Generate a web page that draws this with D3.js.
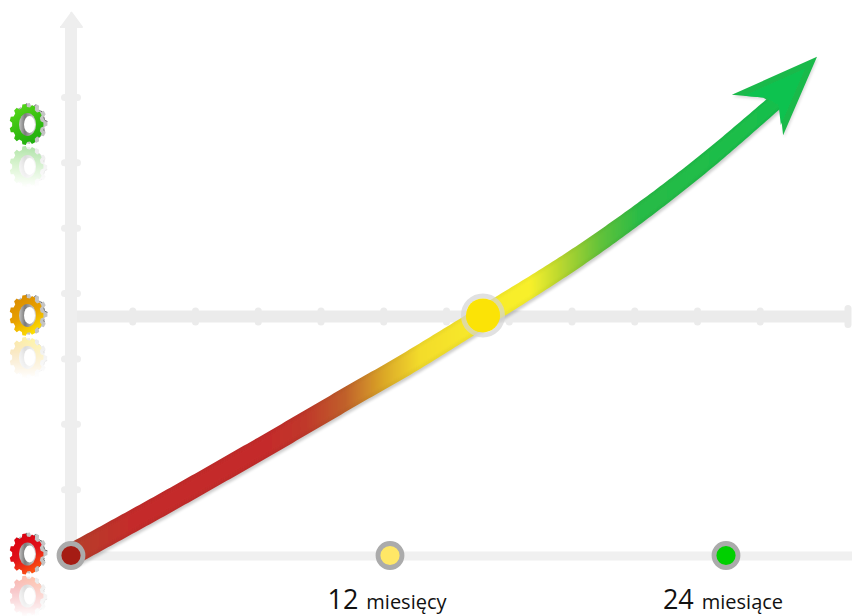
<!DOCTYPE html>
<html>
<head>
<meta charset="utf-8">
<script src="https://cdn.jsdelivr.net/npm/d3@7"></script>
<style>
  html, body { margin: 0; padding: 0; background: #fff; }
  svg { display: block; }
  text { font-family: "Open Sans", sans-serif; fill: #111; }
</style>
</head>
<body>
<div id="chart"></div>
<script>
/* ---- Data ---- */
const curveMonths = [0, 3.35, 7.11, 10.87, 12.36, 15.32, 18.43, 20.82, 23.18, 25.32, 25.93];
const curveScores = [0, 0.75, 1.62, 2.51, 2.86, 3.64, 4.48, 5.2, 5.98, 6.76, 6.99];
const arrowMonths = [27.25, 24.21, 25.32, 25.93, 26.04];
const arrowScores = [7.62, 7.04, 7.0, 6.84, 6.42];
const milestoneMonths = [0, 12, 24];
const milestoneNumbers = ['', '12', '24'];
const milestoneWords = ['', 'miesięcy', 'miesiące'];
const milestoneColors = ['#a51c14', '#ffe766', '#00d000'];
const yTicks = [1, 2, 3, 4, 5, 6, 7];
const midTicks = [1, 2, 3, 4, 5, 6, 7, 8, 9, 10, 11];
const gearScores = [0, 3.65, 6.57];
const crossScore = 3.65;
const crossMonth = 15.32;

const W = 852, H = 616;
const x = d3.scaleLinear().domain([0, 12, 24]).range([71, 390, 726]);
const y = d3.scaleLinear().domain([0, 8]).range([555, 32]);
const tickX = d3.scaleLinear().domain([0, 12]).range([70, 823]);

const svg = d3.select('#chart').append('svg').attr('width', W).attr('height', H);
const defs = svg.append('defs');

/* ---- Gradients ---- */
const bandStops = [
  [71, '#b5402c'], [130, '#c42c2a'], [270, '#c42c2a'], [305, '#c0382a'], [345, '#c0602a'], [385, '#dcaa28'],
  [420, '#f3dc2c'], [480, '#f8ea2a'], [530, '#f8f02c'], [565, '#b0d430'], [600, '#62c23a'], [640, '#28bb46'], [820, '#12c04e']
];
function bandGradient(id, k) {
  const g = defs.append('linearGradient').attr('id', id)
    .attr('gradientUnits', 'userSpaceOnUse')
    .attr('x1', 71).attr('y1', 0).attr('x2', 820).attr('y2', 0);
  bandStops.forEach(s => {
    g.append('stop')
      .attr('offset', (s[0] - 71) / (820 - 71))
      .attr('stop-color', k ? d3.color(s[1]).darker(k) : s[1]);
  });
}
bandGradient('band', 0.1);
bandGradient('bandInner', 0);

defs.append('filter').attr('id', 'soft').attr('x', '-5%').attr('y', '-5%').attr('width', '110%').attr('height', '110%')
  .append('feGaussianBlur').attr('stdDeviation', 1);
defs.append('filter').attr('id', 'shadow').attr('x', '-5%').attr('y', '-5%').attr('width', '110%').attr('height', '110%')
  .append('feGaussianBlur').attr('stdDeviation', 1.4);

const gearColors = [
  ['#d8000e', '#e0101a', '#ff5a10'],
  ['#d88a00', '#e8a000', '#ffe600'],
  ['#58d81a', '#38c010', '#1fae10']
];
gearColors.forEach((c, i) => {
  const g = defs.append('linearGradient').attr('id', 'gear' + i)
    .attr('x1', 0.2).attr('y1', 0).attr('x2', 0.7).attr('y2', 1);
  g.append('stop').attr('offset', 0).attr('stop-color', c[0]);
  g.append('stop').attr('offset', 0.5).attr('stop-color', c[1]);
  g.append('stop').attr('offset', 1).attr('stop-color', c[2]);
});
const holeGrad = defs.append('linearGradient').attr('id', 'hole').attr('x1', 0).attr('x2', 1).attr('y1', 0).attr('y2', 0);
holeGrad.append('stop').attr('offset', 0).attr('stop-color', '#c4c4c4');
holeGrad.append('stop').attr('offset', 0.35).attr('stop-color', '#7a7a7a');
holeGrad.append('stop').attr('offset', 1).attr('stop-color', '#d8d8d8');
const fade = defs.append('linearGradient').attr('id', 'fade').attr('x1', 0).attr('x2', 0).attr('y1', 0).attr('y2', 1);
fade.append('stop').attr('offset', 0).attr('stop-color', '#fff').attr('stop-opacity', 0.36);
fade.append('stop').attr('offset', 1).attr('stop-color', '#fff').attr('stop-opacity', 0);
defs.append('mask').attr('id', 'fadeMask').attr('maskContentUnits', 'objectBoundingBox')
  .append('rect').attr('width', 1).attr('height', 1).attr('fill', 'url(#fade)');

/* ---- Axes ---- */
const AXIS = '#eeeeee';
const axes = svg.append('g');
axes.append('line').attr('x1', 71).attr('x2', W).attr('y1', y(0) + 1).attr('y2', y(0) + 1)
  .attr('stroke', '#f0f0f0').attr('stroke-width', 9);
axes.append('line').attr('x1', 71).attr('x2', 71).attr('y1', y(0)).attr('y2', 24)
  .attr('stroke', AXIS).attr('stroke-width', 12);
axes.append('path')
  .attr('d', d3.line()([[71, 12], [82, 27], [60, 27]]))
  .attr('fill', AXIS).attr('stroke', AXIS).attr('stroke-width', 2).attr('stroke-linejoin', 'round');
axes.append('line').attr('x1', 77).attr('x2', 848).attr('y1', y(crossScore)).attr('y2', y(crossScore))
  .attr('stroke', '#ebebeb').attr('stroke-width', 12);
axes.append('line').attr('x1', 848).attr('x2', 848)
  .attr('y1', y(crossScore) - 8).attr('y2', y(crossScore) + 8)
  .attr('stroke', '#ebebeb').attr('stroke-width', 7).attr('stroke-linecap', 'round');

axes.selectAll('.ytick').data(yTicks).join('line')
  .attr('class', 'ytick')
  .attr('x1', 64.5).attr('x2', 77.5)
  .attr('y1', d => y(d)).attr('y2', d => y(d))
  .attr('stroke', AXIS).attr('stroke-width', 7).attr('stroke-linecap', 'round');
axes.selectAll('.mtick').data(midTicks).join('line')
  .attr('class', 'mtick')
  .attr('x1', d => tickX(d)).attr('x2', d => tickX(d))
  .attr('y1', y(crossScore) - 5.5).attr('y2', y(crossScore) + 5.5)
  .attr('stroke', '#ebebeb').attr('stroke-width', 7).attr('stroke-linecap', 'round');

/* ---- Gears ---- */
function gearPath(rx, ry, teeth) {
  const pts = [];
  const step = 2 * Math.PI / teeth;
  for (let i = 0; i < teeth; i++) {
    const a = i * step;
    [[-0.32, 0.85], [-0.18, 1], [0.18, 1], [0.32, 0.85]].forEach(p => {
      const t = a + p[0] * step;
      pts.push([Math.cos(t) * rx * p[1], Math.sin(t) * ry * p[1]]);
    });
  }
  return d3.line()(pts) + 'Z';
}
function drawGear(g, i) {
  const rim = gearPath(17, 20.5, 11);
  g.append('path').attr('d', rim).attr('transform', 'translate(4,-1)')
    .attr('fill', '#c4c4c4').attr('stroke', '#333').attr('stroke-width', 0.8)
    .attr('stroke-dasharray', '3 9').attr('stroke-opacity', 0.8);
  g.append('path').attr('d', rim).attr('fill', `url(#gear${i})`);
  g.append('ellipse').attr('cx', 1).attr('rx', 8.5).attr('ry', 11.5).attr('fill', 'url(#hole)');
  g.append('ellipse').attr('cx', 3).attr('rx', 5.5).attr('ry', 8.5).attr('fill', '#fff');
}
const gears = svg.selectAll('.gear').data(gearScores).join('g').attr('class', 'gear');
gears.each(function (d, i) {
  const cy = y(d);
  // reflection below the gear, fading out
  const r = d3.select(this).append('g').attr('mask', 'url(#fadeMask)');
  drawGear(r.append('g').attr('transform', `translate(26.5,${cy + 41}) scale(1,-1)`), i);
  drawGear(d3.select(this).append('g').attr('transform', `translate(26.5,${cy - 1})`), i);
});

/* ---- Rising band: ribbon around the curve ---- */
const curvePts = curveMonths.map((m, i) => [x(m), y(curveScores[i])]);
const helper = svg.append('path')
  .attr('d', d3.line().curve(d3.curveCatmullRom)(curvePts))
  .attr('fill', 'none').attr('stroke', 'none');
const node = helper.node();
const total = node.getTotalLength();
const widthAt = d3.scaleLinear().domain([0, 0.5, 1]).range([22, 22, 16]);
function ribbon(k) {
  const left = [], right = [];
  for (let s = 0; s <= total; s += 4) {
    const p = node.getPointAtLength(s);
    const q = node.getPointAtLength(Math.min(total, s + 1));
    const o = node.getPointAtLength(Math.max(0, s - 1));
    const a = Math.atan2(q.y - o.y, q.x - o.x);
    const w = widthAt(s / total) / 2 * k;
    left.push([p.x + Math.sin(a) * w, p.y - Math.cos(a) * w]);
    right.push([p.x - Math.sin(a) * w, p.y + Math.cos(a) * w]);
  }
  return d3.line()(left.concat(right.reverse())) + 'Z';
}
const arrowPts = arrowMonths.map((m, i) => [x(m), y(arrowScores[i])]);
const arrowD = d3.line()(arrowPts) + 'Z';
const arrowCentre = [d3.mean(arrowPts, p => p[0]), d3.mean(arrowPts, p => p[1])];

svg.append('path').attr('d', ribbon(1)).attr('transform', 'translate(1,2.5)')
  .attr('fill', '#000').attr('opacity', 0.2).attr('filter', 'url(#shadow)');
svg.append('path').attr('d', arrowD).attr('transform', 'translate(1,2)')
  .attr('fill', '#000').attr('opacity', 0.14).attr('filter', 'url(#shadow)');
svg.append('path').attr('d', ribbon(1)).attr('fill', 'url(#band)');
svg.append('path').attr('d', arrowD).attr('fill', '#1ab94a');
svg.append('path').attr('d', ribbon(0.72)).attr('fill', 'url(#bandInner)').attr('filter', 'url(#soft)');
svg.append('path').attr('d', arrowD)
  .attr('transform', `translate(${arrowCentre[0]},${arrowCentre[1]}) scale(0.72) translate(${-arrowCentre[0]},${-arrowCentre[1]})`)
  .attr('fill', '#10c250').attr('filter', 'url(#soft)');

/* ---- Crossing marker ---- */
svg.append('circle').attr('cx', x(crossMonth)).attr('cy', y(crossScore) - 1).attr('r', 19.5)
  .attr('fill', 'none').attr('stroke', '#d4d4d4').attr('stroke-width', 5).attr('opacity', 0.7);
svg.append('circle').attr('cx', x(crossMonth)).attr('cy', y(crossScore) - 1).attr('r', 17).attr('fill', '#fbe306');

/* ---- Milestones ---- */
svg.selectAll('.stone').data(milestoneMonths).join('circle')
  .attr('class', 'stone')
  .attr('cx', d => x(d)).attr('cy', y(0) + 0.5).attr('r', 12)
  .attr('fill', (d, i) => milestoneColors[i])
  .attr('stroke', '#ababab').attr('stroke-width', 4.8);

const labels = svg.selectAll('.lab').data(milestoneMonths.slice(1)).join('text')
  .attr('class', 'lab')
  .attr('x', d => x(d) - 3).attr('y', 609)
  .attr('text-anchor', 'middle');
labels.append('tspan').attr('font-size', 27).text((d, i) => milestoneNumbers[i + 1]);
labels.append('tspan').attr('font-size', 20).attr('dx', 8).text((d, i) => milestoneWords[i + 1]);
</script>
</body>
</html>
